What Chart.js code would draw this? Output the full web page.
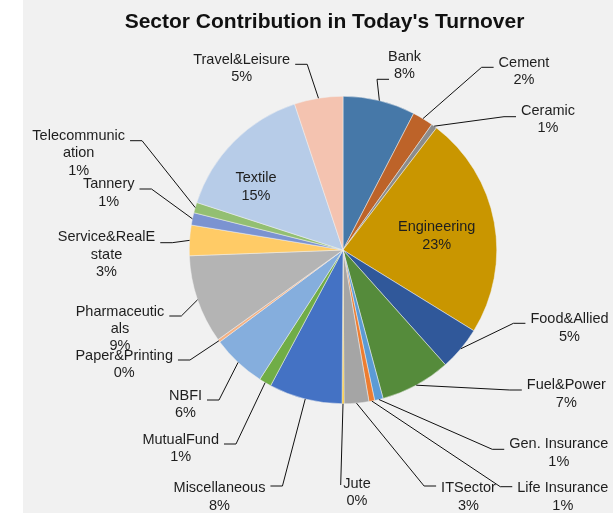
<!DOCTYPE html>
<html>
<head>
<meta charset="utf-8">
<script src="https://cdn.jsdelivr.net/npm/chart.js@4.4.0/dist/chart.umd.min.js"></script>
<style>
  html, body { margin: 0; padding: 0; background: #fff; }
  canvas { display: block; }
</style>
</head>
<body>
<canvas id="sectorChart" width="616" height="513"></canvas>
<script>
// sectors, clockwise from 12 o'clock
const sectors = [
  'Bank', 'Cement', 'Ceramic', 'Engineering', 'Food&Allied', 'Fuel&Power',
  'Gen. Insurance', 'Life Insurance', 'ITSector', 'Jute', 'Miscellaneous',
  'MutualFund', 'NBFI', 'Paper&Printing', 'Pharmaceuticals',
  'Service&RealEstate', 'Tannery', 'Telecommunication', 'Textile', 'Travel&Leisure'
];
// share of turnover, percent
const shares = [
  7.6, 2.2, 0.6, 23.4, 4.6, 7.4,
  0.9, 0.6, 2.6, 0.2, 7.7,
  1.3, 5.7, 0.3, 9.3,
  3.2, 1.3, 1.1, 14.9, 5.1
];
const sliceColors = [
  '#4678a8', '#bd6329', '#8c8c8c', '#c99600', '#30589a', '#558b3b',
  '#5b9bd5', '#ed7d31', '#a5a5a5', '#ffc000', '#4472c4',
  '#70ad47', '#85aedd', '#f4b183', '#b4b4b4',
  '#ffcb66', '#7b93d1', '#93bf72', '#b7cce8', '#f4c3b0'
];
// how Excel wrapped the long names
const labelLines = [
  ['Bank'], ['Cement'], ['Ceramic'], ['Engineering'], ['Food&Allied'], ['Fuel&Power'],
  ['Gen. Insurance'], ['Life Insurance'], ['ITSector'], ['Jute'], ['Miscellaneous'],
  ['MutualFund'], ['NBFI'], ['Paper&Printing'], ['Pharmaceutic', 'als'],
  ['Service&RealE', 'state'], ['Tannery'], ['Telecommunic', 'ation'], ['Textile'], ['Travel&Leisure']
];

// label placement: text centre x, first line y, elbow y (null = label inside slice)
const labelPlace = [
  {x: 404.5, y: 56.7, ey: 79.3, li: 1},
  {x: 524, y: 62.7, ey: 67.3},
  {x: 548, y: 111, ey: 116.7},
  {x: 436.7, y: 227.3, ey: null},
  {x: 569.5, y: 319.3, ey: 323.3},
  {x: 566.3, y: 385.3, ey: 390},
  {x: 558.8, y: 444.3, ey: 449.3},
  {x: 562.8, y: 488.3, ey: 486.7},
  {x: 468.5, y: 488.3, ey: 486},
  {x: 357, y: 484, ey: 485, hl: 0, gap: 2.6},
  {x: 219.5, y: 488.3, ey: 486},
  {x: 180.7, y: 440, ey: 444},
  {x: 185.5, y: 396, ey: 400},
  {x: 124.2, y: 356, ey: 360},
  {x: 120, y: 311.7, ey: 316},
  {x: 106.5, y: 237.3, ey: 242.7},
  {x: 108.7, y: 184.3, ey: 189},
  {x: 78.7, y: 136, ey: 140.7},
  {x: 256, y: 178.3, ey: null},
  {x: 241.7, y: 60, ey: 64.3}
];

const LABEL_FONT = '14.5px "Liberation Sans", Arial, sans-serif';
const LINE_H = 17.3;

const backgroundPlugin = {
  id: 'bg',
  beforeDraw(chart) {
    const ctx = chart.ctx;
    ctx.save();
    ctx.fillStyle = '#fff';
    ctx.fillRect(0, 0, chart.width, chart.height);
    ctx.fillStyle = '#f1f1f1';
    ctx.fillRect(23, 0, 590, chart.height);
    // title
    ctx.fillStyle = '#111';
    ctx.font = 'bold 21px "Liberation Sans", Arial, sans-serif';
    ctx.textAlign = 'center';
    ctx.textBaseline = 'alphabetic';
    ctx.fillText("Sector Contribution in Today's Turnover", 324.5, 27.5);
    ctx.restore();
  }
};

const outsideLabels = {
  id: 'outsideLabels',
  afterDatasetsDraw(chart) {
    const ctx = chart.ctx;
    const meta = chart.getDatasetMeta(0);
    const total = shares.reduce((a, b) => a + b, 0);
    ctx.save();
    ctx.font = LABEL_FONT;
    ctx.fillStyle = '#1e1e1e';
    ctx.strokeStyle = '#111';
    ctx.lineWidth = 1;
    ctx.textAlign = 'center';
    ctx.textBaseline = 'middle';

    meta.data.forEach((arc, i) => {
      const p = labelPlace[i];
      const pct = Math.round(shares[i] / total * 100) + '%';
      const lines = labelLines[i].concat([pct]);
      lines.forEach((t, k) => ctx.fillText(t, p.x, p.y + k * LINE_H));

      if (p.ey === null) return;
      const mid = (arc.startAngle + arc.endAngle) / 2;
      const ex = arc.x + Math.cos(mid) * arc.outerRadius;
      const ey = arc.y + Math.sin(mid) * arc.outerRadius;

      let w;
      if (p.li !== undefined) {
        w = ctx.measureText(lines[p.li]).width;
      } else {
        w = Math.max(...lines.map(t => ctx.measureText(t).width));
      }
      const gap = p.gap !== undefined ? p.gap : 5;
      const hl = p.hl !== undefined ? p.hl : 12;
      const rightSide = p.x > ex;
      const ax = rightSide ? p.x - w / 2 - gap : p.x + w / 2 + gap;
      const bx = rightSide ? ax - hl : ax + hl;

      ctx.beginPath();
      ctx.moveTo(ax, p.ey);
      ctx.lineTo(bx, p.ey);
      ctx.lineTo(ex, ey);
      ctx.stroke();
    });
    ctx.restore();
  }
};

new Chart(document.getElementById('sectorChart'), {
  type: 'pie',
  data: {
    labels: sectors,
    datasets: [{
      data: shares,
      backgroundColor: sliceColors,
      borderColor: '#f1f1f1',
      borderWidth: 0.5
    }]
  },
  options: {
    responsive: false,
    animation: false,
    layout: {
      padding: { top: 96, bottom: 109, left: 189, right: 119 }
    },
    plugins: {
      legend: { display: false },
      title: { display: false },
      tooltip: { enabled: false }
    }
  },
  plugins: [backgroundPlugin, outsideLabels]
});
</script>
</body>
</html>
